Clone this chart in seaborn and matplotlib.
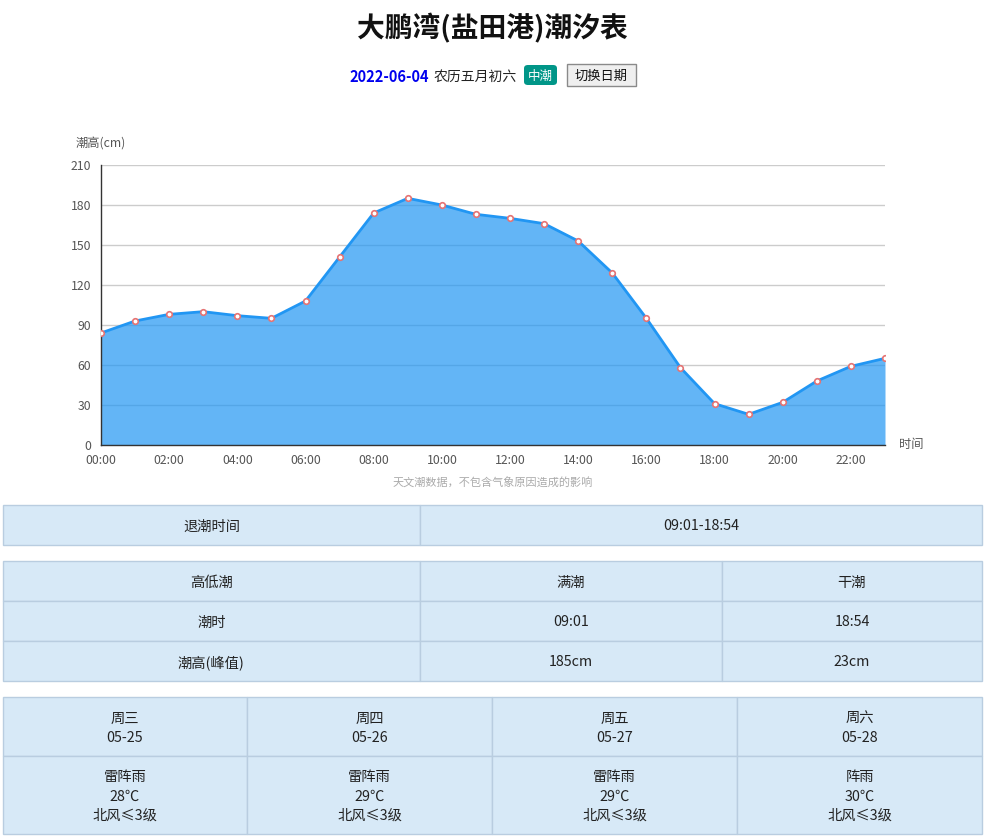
import matplotlib
matplotlib.use("Agg")
import matplotlib.pyplot as plt
from matplotlib.patches import Rectangle, FancyBboxPatch
import seaborn as sns
import pandas as pd

# ---------------- data ----------------
hours = list(range(24))
tide_cm = [84, 93, 98, 100, 97, 95, 108, 141, 174, 185, 180, 173,
           170, 166, 153, 129, 95, 58, 31, 23, 32, 48, 59, 65]
x_tick_hours = list(range(0, 24, 2))
x_tick_labels = [f"{h:02d}:00" for h in x_tick_hours]
y_ticks = [0, 30, 60, 90, 120, 150, 180, 210]

title = "大鹏湾(盐田港)潮汐表"
date_str = "2022-06-04"
lunar_str = "农历五月初六"
tide_type = "中潮"
button_str = "切换日期"
note_str = "天文潮数据，不包含气象原因造成的影响"

ebb_row = ["退潮时间", "09:01-18:54"]
hl_header = ["高低潮", "满潮", "干潮"]
hl_time = ["潮时", "09:01", "18:54"]
hl_height = ["潮高(峰值)", "185cm", "23cm"]

week_days = ["周三", "周四", "周五", "周六"]
week_dates = ["05-25", "05-26", "05-27", "05-28"]
weather = ["雷阵雨", "雷阵雨", "雷阵雨", "阵雨"]
temps = ["28℃", "29℃", "29℃", "30℃"]
winds = ["北风≤3级", "北风≤3级", "北风≤3级", "北风≤3级"]

df = pd.DataFrame({"hour": hours, "tide": tide_cm})

# ---------------- figure ----------------
sns.set_style("white")
plt.rcParams['font.family'] = ['Noto Sans CJK SC', 'DejaVu Sans']

W, H = 985, 839
fig = plt.figure(figsize=(W / 100, H / 100), dpi=100)


def fx(x):
    return x / W


def fy(y):
    return 1 - y / H


# chart axes
ax_l, ax_r, ax_t, ax_b = 101, 885, 165, 445
ax = fig.add_axes([fx(ax_l), fy(ax_b), (ax_r - ax_l) / W, (ax_b - ax_t) / H])

line_c = "#2196F3"
ax.set_axisbelow(True)
ax.yaxis.grid(True, color="#cccccc", linewidth=1)
ax.fill_between(df["hour"], df["tide"], 0, color=line_c, alpha=0.7, linewidth=0, zorder=2)
sns.lineplot(data=df, x="hour", y="tide", ax=ax, color=line_c, linewidth=2, zorder=3)
ax.scatter(df["hour"], df["tide"], s=16, facecolor="white", edgecolor="#e57373",
           linewidth=1.2, zorder=4)

ax.set_xlim(0, 23)
ax.set_ylim(0, 210)
ax.set_xticks(x_tick_hours)
ax.set_xticklabels(x_tick_labels)
ax.set_yticks(y_ticks)
ax.tick_params(axis="both", labelsize=8.8, colors="#333333", labelcolor="#555555",
               length=5, width=1, direction="out")
ax.tick_params(axis="x", pad=1.5)
ax.tick_params(axis="y", pad=2)
for s in ["top", "right"]:
    ax.spines[s].set_visible(False)
for s in ["left", "bottom"]:
    ax.spines[s].set_color("#333333")
    ax.spines[s].set_linewidth(1)
ax.set_xlabel("")
ax.set_ylabel("")

dy = 1.5  # small vertical correction for CJK font metrics

fig.text(fx(76), fy(143 + dy), "潮高(cm)", fontsize=8.8, color="#555555", ha="left", va="center")
fig.text(fx(899), fy(443 + dy), "时间", fontsize=8.8, color="#555555", ha="left", va="center")
fig.text(fx(493), fy(482 + dy), note_str, fontsize=8, color="#aaaaaa", ha="center", va="center")

# title
fig.text(0.5, fy(28), title, fontsize=20, fontweight="bold", color="#111111",
         ha="center", va="center")

# subtitle row
fig.text(fx(349), fy(75 + dy), date_str, fontsize=10.5, fontweight="bold", color="#0000ee",
         ha="left", va="center")
fig.text(fx(434), fy(75 + dy), lunar_str, fontsize=10, color="#222222", ha="left", va="center")
badge = FancyBboxPatch((fx(524), fy(85)), (557 - 524) / W, 20 / H,
                       boxstyle="round,pad=0,rounding_size=0.004",
                       transform=fig.transFigure, facecolor="#009688", edgecolor="none")
fig.patches.append(badge)
fig.text(fx(540.5), fy(75 + dy), tide_type, fontsize=9, color="white", ha="center", va="center")
btn = Rectangle((fx(567), fy(86)), (636 - 567) / W, 22 / H, transform=fig.transFigure,
                facecolor="#efefef", edgecolor="#8a8a8a", linewidth=1)
fig.patches.append(btn)
fig.text(fx(601.5), fy(75 + dy), button_str, fontsize=9.5, color="#111111", ha="center", va="center")

# tables
cell_fc = "#d7e9f7"
cell_ec = "#b9cde0"


def cell(x0, y0, x1, y1, lines):
    r = Rectangle((fx(x0), fy(y1)), (x1 - x0) / W, (y1 - y0) / H, transform=fig.transFigure,
                  facecolor=cell_fc, edgecolor=cell_ec, linewidth=1)
    fig.patches.append(r)
    n = len(lines)
    cy = (y0 + y1) / 2 + dy
    step = 19
    for i, t in enumerate(lines):
        yy = cy + (i - (n - 1) / 2) * step
        fig.text(fx((x0 + x1) / 2), fy(yy), t, fontsize=10.3, color="#222222",
                 ha="center", va="center")


# table 1
cell(3, 505, 420, 545, [ebb_row[0]])
cell(420, 505, 982, 545, [ebb_row[1]])

# table 2
cols2 = [3, 420, 722, 982]
rows2 = [561, 601, 641, 681]
for ri, row in enumerate([hl_header, hl_time, hl_height]):
    for ci in range(3):
        cell(cols2[ci], rows2[ri], cols2[ci + 1], rows2[ri + 1], [row[ci]])

# table 3
cols3 = [3, 247, 492, 737, 982]
for ci in range(4):
    cell(cols3[ci], 697, cols3[ci + 1], 756, [week_days[ci], week_dates[ci]])
    cell(cols3[ci], 756, cols3[ci + 1], 834, [weather[ci], temps[ci], winds[ci]])

fig.savefig("out.png", dpi=100)
